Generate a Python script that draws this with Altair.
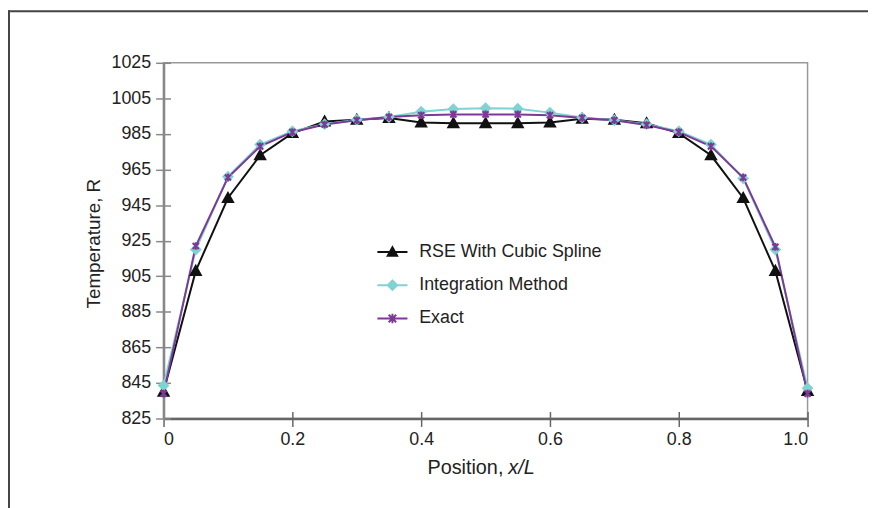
import altair as alt
import pandas as pd

# ---------------- data ----------------
positions = [0.0, 0.05, 0.1, 0.15, 0.2, 0.25, 0.3, 0.35, 0.4, 0.45, 0.5,
             0.55, 0.6, 0.65, 0.7, 0.75, 0.8, 0.85, 0.9, 0.95, 1.0]
rse = [840, 908, 949, 973, 985.5, 992, 993, 994, 991.5, 991, 991,
       991, 991.5, 993.5, 993, 991, 985.5, 973, 949, 908, 840.5]
integ = [843.5, 920, 961, 979, 986.5, 990.5, 993, 994.5, 997.5, 999, 999.5,
         999.2, 997, 994.2, 992.7, 990.5, 986.5, 979, 960, 920, 842]
exact = [839, 922, 960.5, 978, 986, 990.3, 992.7, 994.5, 995.5, 996, 996,
         996, 995.5, 994, 992.7, 990, 986, 978, 960.5, 921.5, 839]
series_names = ["RSE With Cubic Spline", "Integration Method", "Exact"]
y_ticks = [825, 845, 865, 885, 905, 925, 945, 965, 985, 1005, 1025]
x_ticks = [0, 0.2, 0.4, 0.6, 0.8, 1.0]

# ---------------- styles ----------------
line_colors = ["#111111", "#7fd3d3", "#7b3a96"]
fill_colors = ["#111111", "#7fd3d3", "transparent"]
marker_sizes = [100, 60, 130]
tri = "M0,-1L1,0.8L-1,0.8Z"
dia = "M0,-1L1,0L0,1L-1,0Z"
star = "M-0.8,-0.8L0.8,0.8M-0.8,0.8L0.8,-0.8M0,-1L0,1"
marker_paths = [tri, dia, star]
legend_paths = ["M-3.4,0L3.4,0" + p for p in marker_paths]
FONT = "Liberation Sans"

rows = []
for name, vals in zip(series_names, [rse, integ, exact]):
    for p, v in zip(positions, vals):
        rows.append({"pos": p, "temp": v, "series": name})
df = pd.DataFrame(rows)

x_scale = alt.Scale(domain=[0, 1], nice=False, zero=False)
y_scale = alt.Scale(domain=[825, 1025], nice=False, zero=False)

base = alt.Chart(df)

lines = base.mark_line(strokeWidth=2).encode(
    x=alt.X("pos:Q", scale=x_scale,
            axis=alt.Axis(values=x_ticks, title=None, grid=False,
                          labelExpr="datum.value == 0 ? '0' : format(datum.value, '.1f')",
                          domainColor="#666", domainWidth=2.5,
                          tickColor="#666", tickWidth=1.5, tickSize=8,
                          labelPadding=4, labelFont=FONT, labelFontSize=18,
                          labelColor="#222")),
    y=alt.Y("temp:Q", scale=y_scale,
            axis=alt.Axis(values=y_ticks, format="d", title="Temperature, R", grid=False,
                          domainColor="#888", domainWidth=2.5,
                          tickColor="#888", tickWidth=1.5, tickSize=8,
                          labelPadding=5, labelFont=FONT, labelFontSize=18,
                          labelColor="#222",
                          titleFont=FONT, titleFontSize=19, titleFontWeight="normal",
                          titleColor="#222", titleAngle=270, titleX=-71, titleY=182,
                          titleAlign="center", titleBaseline="middle")),
    color=alt.Color("series:N", scale=alt.Scale(domain=series_names, range=line_colors),
                    legend=None),
)

points = base.mark_point(strokeWidth=2.1, opacity=1).encode(
    x=alt.X("pos:Q", scale=x_scale,
            axis=alt.Axis(orient="bottom", offset=-7, tickSize=7, values=x_ticks,
                          labels=False, domain=False, title=None, grid=False,
                          tickColor="#666", tickWidth=1.5)),
    y=alt.Y("temp:Q", scale=y_scale,
            axis=alt.Axis(orient="left", offset=-7, tickSize=7, values=y_ticks,
                          labels=False, domain=False, title=None, grid=False,
                          tickColor="#888", tickWidth=1.5)),
    shape=alt.Shape("series:N", scale=alt.Scale(domain=series_names, range=marker_paths),
                    legend=None),
    fill=alt.Fill("series:N", scale=alt.Scale(domain=series_names, range=fill_colors),
                  legend=None),
    stroke=alt.Stroke("series:N", scale=alt.Scale(domain=series_names, range=line_colors),
                      legend=None),
    size=alt.Size("series:N", scale=alt.Scale(domain=series_names, range=marker_sizes),
                  legend=None),
)

leg = alt.Legend(title=None, orient="none", legendX=222, legendY=182,
                 labelFont=FONT, labelFontSize=18, labelColor="#222", labelLimit=0,
                 rowPadding=15.5, labelOffset=18, padding=0,
                 symbolSize=90, symbolStrokeWidth=2)

legend_layer = base.transform_filter("false").mark_point(size=90, strokeWidth=2, opacity=1).encode(
    x=alt.X("pos:Q", scale=x_scale, axis=None),
    y=alt.Y("temp:Q", scale=y_scale, axis=None),
    shape=alt.Shape("series:N", scale=alt.Scale(domain=series_names,
                                                range=["M-3.2,0L3.2,0" + p for p in marker_paths]),
                    legend=leg),
    fill=alt.Fill("series:N", scale=alt.Scale(domain=series_names, range=fill_colors),
                  legend=leg),
    stroke=alt.Stroke("series:N", scale=alt.Scale(domain=series_names, range=line_colors),
                      legend=leg),
)

one = alt.Data(values=[{}])
frame_top = alt.Chart(one).mark_rule(color="#444", strokeWidth=2).encode(
    x=alt.value(-157), x2=alt.value(760), y=alt.value(-52))
frame_left = alt.Chart(one).mark_rule(color="#444", strokeWidth=2).encode(
    x=alt.value(-156), y=alt.value(-53), y2=alt.value(460))

xt1 = alt.Chart(one).mark_text(font=FONT, fontSize=20, color="#222", align="right",
                               baseline="alphabetic").encode(
    x=alt.value(343), y=alt.value(415), text=alt.value("Position,"))
xt2 = alt.Chart(one).mark_text(font=FONT, fontSize=20, color="#222", align="left",
                               baseline="alphabetic", fontStyle="italic").encode(
    x=alt.value(348), y=alt.value(415), text=alt.value("x/L"))

chart = alt.layer(frame_top, frame_left, lines, points, legend_layer, xt1, xt2).resolve_scale(
    shape="independent", fill="independent", stroke="independent", size="independent"
).resolve_axis(x="independent", y="independent").properties(
    width=650, height=359,
    autosize=alt.AutoSizeParams(type="none"),
    padding={"left": 157, "top": 53, "right": 61, "bottom": 88},
    background="white",
).configure_view(stroke="#999", strokeWidth=1.5)

chart.save("out.html", embed_options={"renderer": "svg", "actions": False})
